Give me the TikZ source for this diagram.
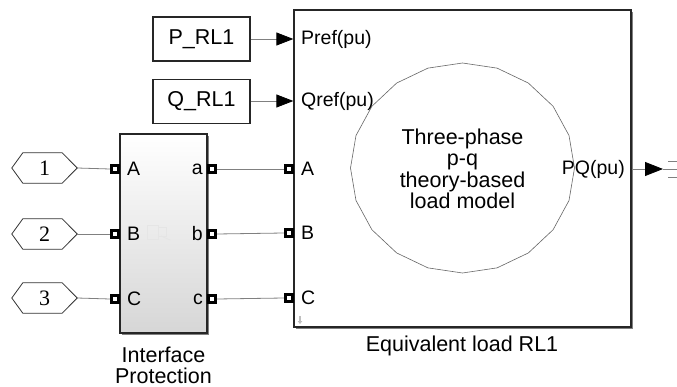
\documentclass[tikz,border=0pt]{standalone}
\usepackage{fontspec}
\setmainfont{Liberation Sans}
\newfontfamily\hexfont{Liberation Serif}
\usetikzlibrary{arrows.meta,calc}

\begin{document}
\begin{tikzpicture}[x=1pt,y=-1pt,
  wire/.style={draw=black!50, line width=0.8pt},
  sigarrow/.style={wire, -{Triangle[length=17pt,width=13pt,color=black]}},
  portsq/.style={rectangle, draw=black, fill=white, line width=3.3pt,
                 minimum size=6.8pt, inner sep=0pt},
  lbl/.style={font=\fontsize{19.5}{19.5}\selectfont, inner sep=0pt},
  big/.style={font=\fontsize{21.5}{21.5}\selectfont, inner sep=0pt},
  blockframe/.style={draw=black!85, line width=1.3pt, inner sep=0pt},
  constbox/.style={blockframe, fill=white, minimum width=97pt, minimum height=44pt,
                   font=\fontsize{21.5}{21.5}\selectfont},
  shadowfill/.style={fill=black!50},
  hexport/.style={minimum width=65pt, minimum height=30pt, inner sep=0pt,
                  font=\hexfont\fontsize{22}{22}\selectfont},
  hexline/.style={draw=black!80, line width=0.8pt, fill=white}
]
\useasboundingbox (0,0) rectangle (677,387);

% ---------- equivalent load block ----------
\fill[shadowfill] (296,12) rectangle (633,329);
\node[blockframe, fill=white, minimum width=337pt, minimum height=317pt] (load) at (462.5,168.5) {};
\draw[black!60, line width=0.6pt]
  plot[samples=21, domain=0:360] ({462.5+112*cos(\x)},{168+105*sin(\x)}) -- cycle;
\node[big, align=center] (model) at (462.5,169) {Three-phase\\p-q\\theory-based\\load model};
\draw[black!25, line width=1.4pt, -{Triangle[length=3pt,width=4.5pt]}] (300,316) -- (300,324);

\node[lbl, anchor=west] (lpref) at (301,39) {Pref(pu)};
\node[lbl, anchor=west] (lqref) at (301,101) {Qref(pu)};
\node[lbl, anchor=west] (lA) at (301,169) {A};
\node[lbl, anchor=west] (lB) at (301,233) {B};
\node[lbl, anchor=west] (lC) at (301,298) {C};
\node[lbl, anchor=east] (lpq) at (625,169) {PQ(pu)};

\node[portsq] (mA) at (289,169) {};
\node[portsq] (mB) at (289,233) {};
\node[portsq] (mC) at (289,298) {};

\node[big] (loadname) at (462,346) {Equivalent load RL1};

% ---------- reference constants ----------
\node[constbox] (pbox) at (201.5,39) {P\_RL1};
\node[constbox] (qbox) at (201.5,101.5) {Q\_RL1};
\draw[sigarrow] (pbox.east) -- (pbox.east -| load.west);
\draw[sigarrow] (qbox.east |- lqref) -- (lqref -| load.west);

% ---------- output port ----------
\coordinate (pqtip) at (663,169);
\draw[wire, -{Triangle[length=18pt,width=14pt,color=black]}] (load.east |- lpq) -- (pqtip);
\coordinate (t1) at (668,161);
\coordinate (t2) at (677,161);
\coordinate (t3) at (668,177);
\coordinate (t4) at (677,177);
\coordinate (t5) at (677,169);
\draw[wire] (t1) -- (t2);
\draw[wire] (t3) -- (t4);
\draw[wire] (pqtip) -- (t5);

% ---------- interface protection block ----------
\fill[shadowfill] (122,136) rectangle (209,335);
\node[blockframe, top color=white, bottom color=black!16,
      minimum width=87pt, minimum height=199pt] (ifp) at (163.5,233.5) {};
\begin{scope}[black!10, line width=0.8pt]
  \draw (147,225) rectangle (158,239);
  \draw (158,227) rectangle (166,236);
  \draw (161,236) -- (170,240);
\end{scope}

\node[lbl, anchor=west] (iA) at (127,169) {A};
\node[lbl, anchor=west] (iB) at (127,234) {B};
\node[lbl, anchor=west] (iC) at (127,299) {C};
\node[lbl, anchor=east] (oa) at (203,169) {a};
\node[lbl, anchor=east] (ob) at (203,234) {b};
\node[lbl, anchor=east] (oc) at (203,299) {c};

\node[portsq] (pA) at (115,169) {};
\node[portsq] (pB) at (115,234) {};
\node[portsq] (pC) at (115,299) {};
\node[portsq] (qa) at (212,169) {};
\node[portsq] (qb) at (212,234) {};
\node[portsq] (qc) at (212,299) {};

\node[font=\fontsize{21.5}{21}\selectfont, inner sep=0pt, align=center] (ifpname) at (163.5,365) {Interface\\Protection};

% ---------- connections between the blocks ----------
\draw[wire] (qa.east) -- (mA.west);
\draw[wire] (qb.east) -- (mB.west);
\draw[wire] (qc.east) -- (mC.west);

% ---------- physical ports ----------
\foreach \n/\y/\p in {1/168/pA, 2/234/pB, 3/298/pC} {
  \node[hexport] (h\n) at (44.5,\y) {};
  \draw[hexline] (h\n.west) -- ([xshift=11pt]h\n.north west) -- ([xshift=-15pt]h\n.north east)
     -- (h\n.east) -- ([xshift=-15pt]h\n.south east) -- ([xshift=11pt]h\n.south west) -- cycle;
  \node[hexport] at (h\n) {\n};
  \draw[wire] (h\n.east) -- (\p.west);
}
\end{tikzpicture}
\end{document}
